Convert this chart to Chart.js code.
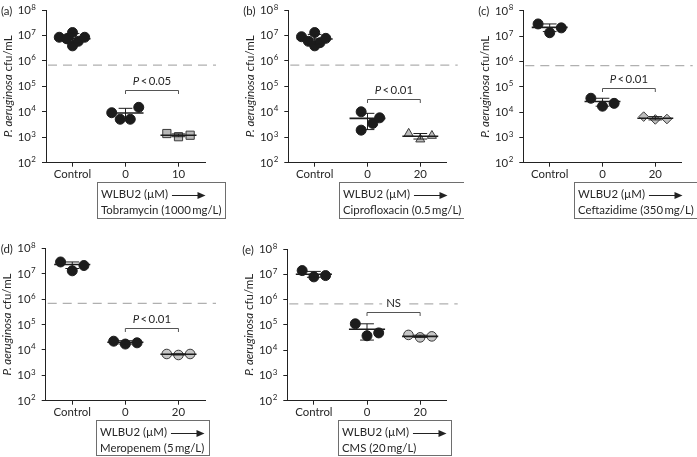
<!DOCTYPE html>
<html>
<head>
<meta charset="utf-8">
<script src="https://cdn.jsdelivr.net/npm/chart.js@4.4.1/dist/chart.umd.min.js"></script>
<style>
  body { margin: 0; background: #fff; }
  #wrap { position: relative; width: 697px; height: 457px; overflow: hidden; }
  canvas { position: absolute; }
</style>
</head>
<body>
<div id="wrap">
  <canvas id="pa"></canvas>
  <canvas id="pb"></canvas>
  <canvas id="pc"></canvas>
  <canvas id="pd"></canvas>
  <canvas id="pe"></canvas>
</div>
<script>
// ---- Daten ----------------------------------------------------------
const yTickValues = [1e2, 1e3, 1e4, 1e5, 1e6, 1e7, 1e8];
const cutoffCfu = 6.8e5;
const boxTop = 'WLBU2 (\u00b5M)';
const panelTags = ['(a)', '(b)', '(c)', '(d)', '(e)'];
const groupLabelsA = ['Control', '0', '10'];
const groupLabels = ['Control', '0', '20'];
const drugLabels = ['Tobramycin (1000\u2009mg/L)', 'Ciprofloxacin (0.5\u2009mg/L)', 'Ceftazidime (350\u2009mg/L)', 'Meropenem (5\u2009mg/L)', 'CMS (20\u2009mg/L)'];
const sigLabels = ['P<0.05', 'P<0.01', 'P<0.01', 'P<0.01', 'NS'];
const sigLevels = [7.2e4, 3.2e4, 8.7e4, 7.4e4, 3.2e5];
const jitter3 = [-0.22, 0, 0.22];

// (a) Tobramycin
const tobCtrl = [8.5e6, 7.4e6, 1.3e7, 3.9e6, 5.9e6, 8.5e6];
const tobCtrlX = [-0.25, -0.11, 0, 0, 0.11, 0.23];
const tobWlbu = [9.2e3, 5.1e3, 5.1e3, 1.5e4];
const tobWlbuX = [-0.26, -0.1, 0.09, 0.25];
const tobCombo = [1.4e3, 1.05e3, 1.2e3];
const tobMean = [7.4e6, 9.0e3, 1.2e3];
const tobHigh = [1.2e7, 1.37e4, 1.35e3];
const tobLow = [4.9e6, 5.5e3, 1.05e3];

// (b) Ciprofloxacin
const cipCtrl = [8.9e6, 5.9e6, 1.3e7, 3.9e6, 5.2e6, 7.7e6];
const cipCtrlX = [-0.25, -0.12, 0, 0, 0.1, 0.21];
const cipWlbu = [1.0e4, 1.9e3, 3.5e3, 5.8e3];
const cipWlbuX = [-0.12, -0.12, 0.1, 0.23];
const cipCombo = [1.4e3, 8.3e2, 1.15e3];
const cipMean = [7.3e6, 5.5e3, 1.1e3];
const cipHigh = [1.1e7, 8.7e3, 1.4e3];
const cipLow = [4.6e6, 2.0e3, 8.5e2];

// (c) Ceftazidime
const cefCtrl = [3.0e7, 1.35e7, 2.1e7];
const cefWlbu = [3.5e4, 1.7e4, 2.2e4];
const cefCombo = [6.6e3, 5.1e3, 5.3e3];
const cefMean = [2.2e7, 2.6e4, 5.7e3];
const cefHigh = [3.0e7, 3.5e4, 6.6e3];
const cefLow = [1.5e7, 1.7e4, 4.9e3];

// (d) Meropenem
const merCtrl = [2.9e7, 1.3e7, 2.1e7];
const merWlbu = [2.2e4, 1.7e4, 1.9e4];
const merCombo = [6.9e3, 6.3e3, 6.9e3];
const merMean = [2.3e7, 2.0e4, 6.7e3];
const merHigh = [2.9e7, 2.3e4, 7.0e3];
const merLow = [1.6e7, 1.7e4, 6.3e3];

// (e) CMS
const cmsCtrl = [1.4e7, 7.9e6, 8.9e6];
const cmsWlbu = [1.1e5, 3.7e4, 4.8e4];
const cmsCombo = [4.0e4, 3.2e4, 3.5e4];
const cmsMean = [1.0e7, 6.7e4, 3.5e4];
const cmsHigh = [1.3e7, 1.1e5, 3.9e4];
const cmsLow = [7.6e6, 2.5e4, 3.2e4];

// ---- Layout / Stil --------------------------------------------------
const FONT = 'Lato, "Open Sans", sans-serif';
const FS = 11.4;
Chart.defaults.font.family = FONT;
Chart.defaults.font.size = FS;
Chart.defaults.color = '#262626';
const INK = '#1c1c1c';

const panels = [
  { id: 'pa', L: 0,   T: 0,   W: 232, H: 225, A: 46,    Y0: 10,    Y1: 162.7, XE: 205,
    labels: groupLabelsA, drug: drugLabels[0], tag: panelTags[0], sig: sigLabels[0], sigLevel: sigLevels[0],
    ctrl: tobCtrl, ctrlX: tobCtrlX, wlbu: tobWlbu, wlbuX: tobWlbuX, combo: tobCombo, comboX: jitter3,
    mean: tobMean, high: tobHigh, low: tobLow, shape: 'rect', r: 5.8, fill: '#b7b7b7' },
  { id: 'pb', L: 236, T: 0,   W: 228, H: 225, A: 288.3, Y0: 10,    Y1: 162.7, XE: 446.7,
    labels: groupLabels, drug: drugLabels[1], tag: panelTags[1], sig: sigLabels[1], sigLevel: sigLevels[1],
    ctrl: cipCtrl, ctrlX: cipCtrlX, wlbu: cipWlbu, wlbuX: cipWlbuX, combo: cipCombo, comboX: jitter3,
    mean: cipMean, high: cipHigh, low: cipLow, shape: 'triangle', r: 5.2, fill: '#bdbdbd' },
  { id: 'pc', L: 464, T: 0,   W: 233, H: 225, A: 523.3, Y0: 10.7,  Y1: 162.7, XE: 681.7,
    labels: groupLabels, drug: drugLabels[2], tag: panelTags[2], sig: sigLabels[2], sigLevel: sigLevels[2],
    ctrl: cefCtrl, ctrlX: jitter3, wlbu: cefWlbu, wlbuX: jitter3, combo: cefCombo, comboX: jitter3,
    mean: cefMean, high: cefHigh, low: cefLow, shape: 'rectRot', r: 4.8, fill: '#bdbdbd' },
  { id: 'pd', L: 0,   T: 228, W: 232, H: 229, A: 45.7,  Y0: 248.3, Y1: 400.7, XE: 205,
    labels: groupLabels, drug: drugLabels[3], tag: panelTags[3], sig: sigLabels[3], sigLevel: sigLevels[3],
    ctrl: merCtrl, ctrlX: jitter3, wlbu: merWlbu, wlbuX: jitter3, combo: merCombo, comboX: jitter3,
    mean: merMean, high: merHigh, low: merLow, shape: 'circle', r: 4.8, fill: '#c6c6c6' },
  { id: 'pe', L: 236, T: 228, W: 228, H: 229, A: 287.3, Y0: 249,   Y1: 400.7, XE: 446.7,
    labels: groupLabels, drug: drugLabels[4], tag: panelTags[4], sig: sigLabels[4], sigLevel: sigLevels[4],
    ctrl: cmsCtrl, ctrlX: jitter3, wlbu: cmsWlbu, wlbuX: jitter3, combo: cmsCombo, comboX: jitter3,
    mean: cmsMean, high: cmsHigh, low: cmsLow, shape: 'circle', r: 4.8, fill: '#c6c6c6' }
];

// Deko-Plugin: Grenzlinie, Mittelwert/SD, Klammer, Achsentexte, Kasten
function makeDeco(p) {
  return {
    id: 'deco',
    beforeDatasetsDraw(chart) {
      const { ctx, chartArea: ca, scales: { y } } = chart;
      const yc = y.getPixelForValue(cutoffCfu);
      ctx.save();
      ctx.strokeStyle = '#b0b0b0';
      ctx.lineWidth = 1.2;
      ctx.setLineDash([9, 6]);
      ctx.beginPath();
      ctx.moveTo(ca.left + 2, yc);
      ctx.lineTo(ca.right + 11, yc);
      ctx.stroke();
      ctx.restore();
    },
    afterDatasetsDraw(chart) {
      const { ctx, scales: { x, y } } = chart;
      ctx.save();
      ctx.strokeStyle = INK;
      for (let i = 0; i < 3; i++) {
        const cx = x.getPixelForValue(i);
        const ym = y.getPixelForValue(p.mean[i]);
        const yh = y.getPixelForValue(p.high[i]);
        const yl = y.getPixelForValue(p.low[i]);
        ctx.lineWidth = 1.6;
        ctx.beginPath();
        ctx.moveTo(x.getPixelForValue(i - 0.34), ym);
        ctx.lineTo(x.getPixelForValue(i + 0.34), ym);
        ctx.stroke();
        ctx.lineWidth = 1;
        ctx.beginPath();
        ctx.moveTo(cx, yl); ctx.lineTo(cx, yh);
        ctx.moveTo(x.getPixelForValue(i - 0.13), yh); ctx.lineTo(x.getPixelForValue(i + 0.13), yh);
        ctx.moveTo(x.getPixelForValue(i - 0.13), yl); ctx.lineTo(x.getPixelForValue(i + 0.13), yl);
        ctx.stroke();
      }
      // Signifikanz-Klammer
      const x1 = x.getPixelForValue(1), x2 = x.getPixelForValue(2);
      const yb = Math.round(y.getPixelForValue(p.sigLevel)) + 0.5;
      ctx.strokeStyle = '#555';
      ctx.beginPath();
      ctx.moveTo(x1, yb + 3.5); ctx.lineTo(x1, yb); ctx.lineTo(x2, yb); ctx.lineTo(x2, yb + 3.5);
      ctx.stroke();
      const mid = (x1 + x2) / 2, ty = yb - 9;
      ctx.textBaseline = 'middle';
      ctx.fillStyle = '#262626';
      if (p.sig === 'NS') {
        ctx.font = FS + 'px ' + FONT;
        const w = ctx.measureText('NS').width;
        ctx.fillStyle = '#fff';
        ctx.fillRect(mid - w / 2 - 4, ty - 6, w + 8, 12);
        ctx.fillStyle = '#262626';
        ctx.textAlign = 'center';
        ctx.fillText('NS', mid, ty);
      } else {
        const rest = '\u2009<\u2009' + p.sig.slice(2);
        ctx.font = 'italic ' + FS + 'px ' + FONT;
        const wp = ctx.measureText('P').width;
        ctx.font = FS + 'px ' + FONT;
        const wr = ctx.measureText(rest).width;
        const sx = mid - (wp + wr) / 2;
        ctx.textAlign = 'left';
        ctx.font = 'italic ' + FS + 'px ' + FONT;
        ctx.fillText('P', sx, ty);
        ctx.font = FS + 'px ' + FONT;
        ctx.fillText(rest, sx + wp, ty);
      }
      ctx.restore();
    },
    afterDraw(chart) {
      const { ctx, chartArea: ca, scales: { x, y } } = chart;
      ctx.save();
      ctx.fillStyle = '#262626';
      // y-Achsenbeschriftung 10^n
      yTickValues.forEach(v => {
        const py = y.getPixelForValue(v);
        const exp = String(Math.round(Math.log10(v)));
        const xr = ca.left - 10;
        ctx.textAlign = 'left';
        ctx.textBaseline = 'alphabetic';
        ctx.font = '8px ' + FONT;
        const ew = ctx.measureText(exp).width;
        ctx.fillText(exp, xr - ew, py - 0.5);
        ctx.font = FS + 'px ' + FONT;
        const bw = ctx.measureText('10').width;
        ctx.fillText('10', xr - ew - 0.5 - bw, py + 4);
      });
      // Panel-Kennung
      ctx.font = FS + 'px ' + FONT;
      ctx.textBaseline = 'middle';
      ctx.fillText(p.tag, ca.left - 45, ca.top + 1);
      // y-Titel
      ctx.save();
      ctx.translate(ca.left - 38, (ca.top + ca.bottom) / 2);
      ctx.rotate(-Math.PI / 2);
      ctx.font = 'italic 11.5px ' + FONT;
      const t1 = 'P. aeruginosa';
      const w1 = ctx.measureText(t1).width;
      ctx.font = '11.5px ' + FONT;
      const t2 = ' cfu/mL';
      const w2 = ctx.measureText(t2).width;
      const sx = -(w1 + w2) / 2;
      ctx.font = 'italic 11.5px ' + FONT;
      ctx.fillText(t1, sx, 0);
      ctx.font = '11.5px ' + FONT;
      ctx.fillText(t2, sx + w1, 0);
      ctx.restore();
      // Kasten unter der Achse
      const bl = Math.round(x.getPixelForValue(1) - 29) + 0.5;
      const bt = Math.round(ca.bottom + 19) + 0.5;
      ctx.font = FS + 'px ' + FONT;
      const wTop = ctx.measureText(boxTop).width;
      const wDrug = ctx.measureText(p.drug).width;
      const arrowEnd = bl + 108;
      const br = Math.round(Math.max(bl + 3.5 + wDrug, arrowEnd) + 4) + 0.5;
      const bh = Math.min(36, chart.height - 1.5 - bt);
      ctx.strokeStyle = '#6e6e6e';
      ctx.lineWidth = 1;
      ctx.strokeRect(bl, bt, br - bl, bh);
      ctx.textAlign = 'left';
      ctx.textBaseline = 'middle';
      ctx.fillText(boxTop, bl + 3.5, bt + 12);
      ctx.fillText(p.drug, bl + 3.5, bt + 27.5);
      const ay = Math.round(bt + 12) + 0.5;
      ctx.strokeStyle = '#222';
      ctx.beginPath();
      ctx.moveTo(bl + 3.5 + wTop + 4, ay);
      ctx.lineTo(arrowEnd - 6, ay);
      ctx.stroke();
      ctx.fillStyle = '#222';
      ctx.beginPath();
      ctx.moveTo(arrowEnd, ay);
      ctx.lineTo(arrowEnd - 8, ay - 3.5);
      ctx.lineTo(arrowEnd - 8, ay + 3.5);
      ctx.closePath();
      ctx.fill();
      ctx.restore();
    }
  };
}

panels.forEach(p => {
  const canvas = document.getElementById(p.id);
  canvas.width = p.W;
  canvas.height = p.H;
  canvas.style.left = p.L + 'px';
  canvas.style.top = p.T + 'px';

  const toPoints = (vals, offs, g) => vals.map((v, i) => ({ x: g + offs[i], y: v }));
  const black = { backgroundColor: INK, borderColor: INK, borderWidth: 1, pointStyle: 'circle', pointRadius: 5 };

  new Chart(canvas, {
    type: 'scatter',
    data: {
      datasets: [
        Object.assign({ data: toPoints(p.ctrl, p.ctrlX, 0) }, black),
        Object.assign({ data: toPoints(p.wlbu, p.wlbuX, 1) }, black),
        { data: toPoints(p.combo, p.comboX, 2), backgroundColor: p.fill, borderColor: '#3a3a3a',
          borderWidth: 1, pointStyle: p.shape, pointRadius: p.r }
      ]
    },
    options: {
      responsive: false,
      animation: false,
      devicePixelRatio: 1,
      events: [],
      layout: { padding: { left: 0, top: p.Y0 - p.T, right: p.L + p.W - p.XE, bottom: 0 } },
      plugins: { legend: { display: false }, tooltip: { enabled: false } },
      scales: {
        x: {
          type: 'linear', min: -0.5, max: 2.5,
          afterBuildTicks: s => { s.ticks = [0, 1, 2].map(v => ({ value: v })); },
          afterFit: s => { s.height = p.T + p.H - p.Y1; },
          ticks: { callback: (v, i) => p.labels[i], autoSkip: false, maxRotation: 0, padding: 1, color: '#262626' },
          grid: { drawOnChartArea: false, drawTicks: true, tickLength: 4, color: '#222' },
          border: { display: true, color: '#222', width: 1 }
        },
        y: {
          type: 'logarithmic', min: 1e2, max: 1e8,
          afterBuildTicks: s => { s.ticks = yTickValues.map(v => ({ value: v })); },
          afterFit: s => { s.width = p.A - p.L; },
          ticks: { display: false },
          grid: { drawOnChartArea: false, drawTicks: true, tickLength: 4, color: '#222' },
          border: { display: true, color: '#222', width: 1 }
        }
      }
    },
    plugins: [makeDeco(p)]
  });
});
</script>
</body>
</html>
